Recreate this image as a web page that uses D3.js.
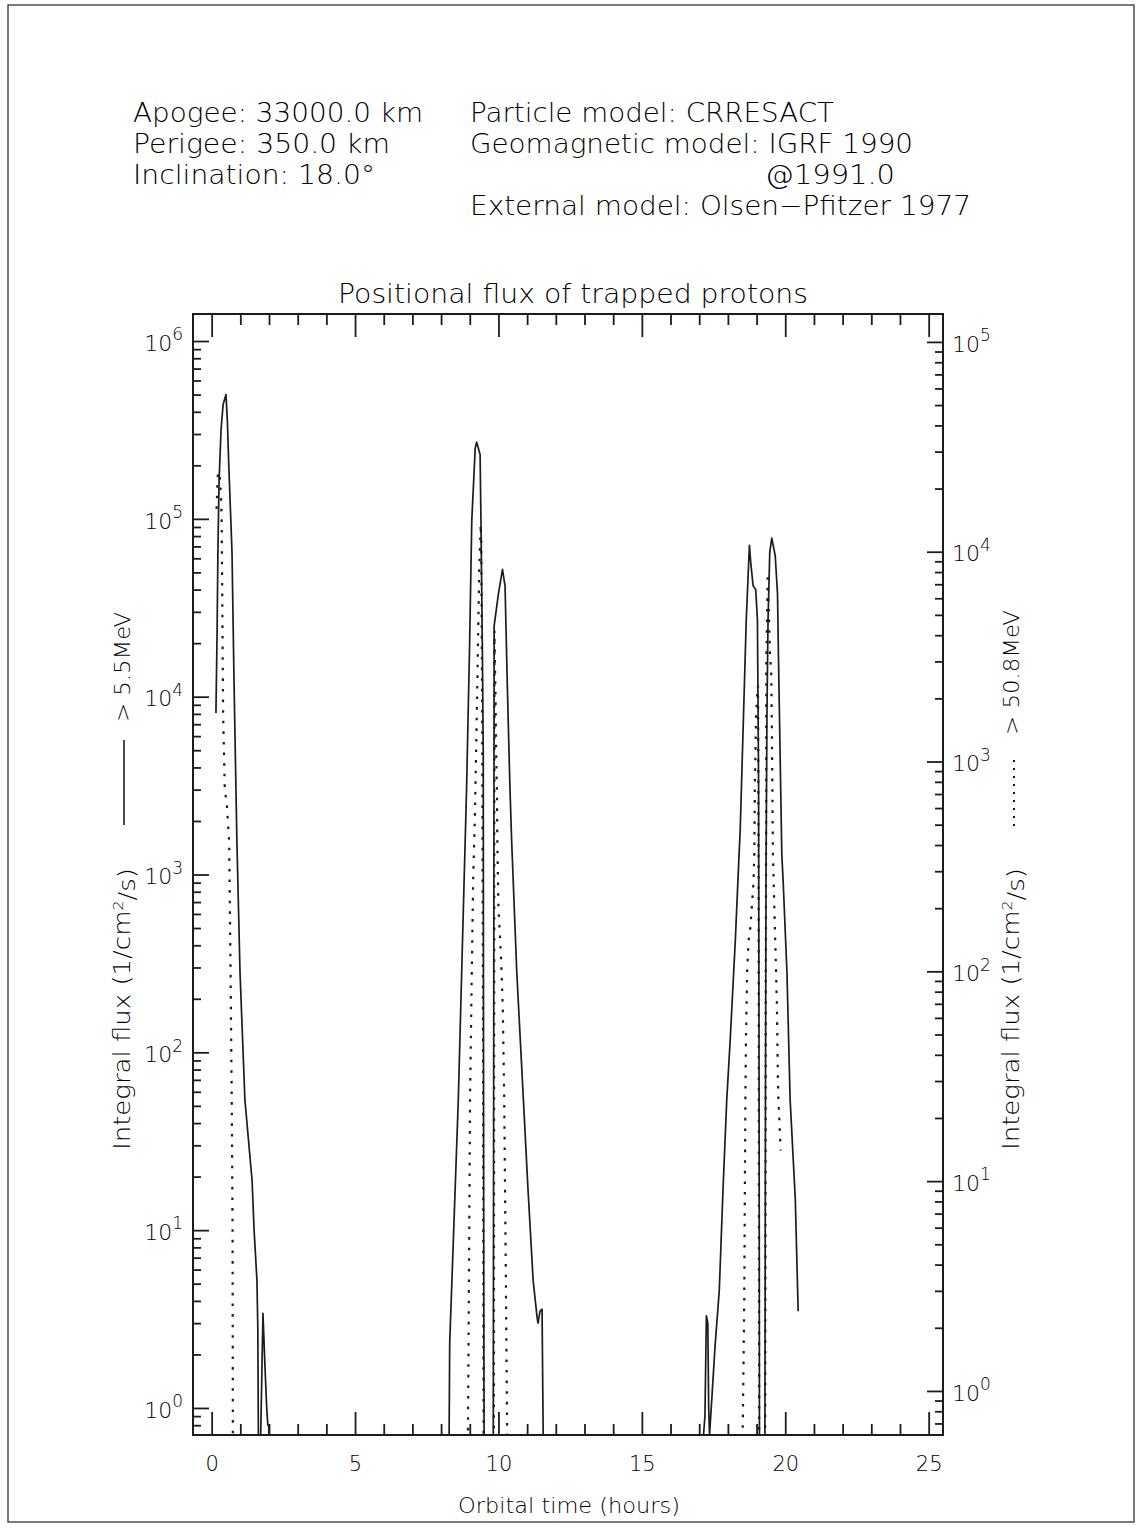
<!DOCTYPE html>
<html>
<head>
<meta charset="utf-8">
<script src="https://cdn.jsdelivr.net/npm/d3@7"></script>
<style>
  html, body { margin: 0; padding: 0; background: #fff; }
  svg text { font-family: "DejaVu Sans", "Liberation Sans", sans-serif; fill: #000; font-weight: 200; }
</style>
</head>
<body>
<svg id="chart" width="1142" height="1528"></svg>
<script>
// Orbit and model description printed above the plot
const orbitInfo = ["Apogee: 33000.0 km", "Perigee: 350.0 km", "Inclination: 18.0°"];
const modelInfo = ["Particle model: CRRESACT", "Geomagnetic model: IGRF 1990", "@1991.0", "External model: Olsen\u2212Pfitzer 1977"];
const chartTitle = "Positional flux of trapped protons";
const xTitle = "Orbital time (hours)";
const legendLow = "> 5.5MeV";
const legendHigh = "> 50.8MeV";

// Axis ticks
const xMajorTicks = [0, 5, 10, 15, 20, 25];
const xMinorTicks = d3.range(0, 26).filter(v => v % 5 !== 0);
const leftDecades = [1e0, 1e1, 1e2, 1e3, 1e4, 1e5, 1e6];
const rightDecades = [1e0, 1e1, 1e2, 1e3, 1e4, 1e5];

// Integral flux > 5.5 MeV (1/cm²/s), left axis; 0 = no flux
const orbitTime55 = [
  0.15, 0.19, 0.22, 0.26, 0.33, 0.40, 0.50, 0.55, 0.60, 0.71, 0.78, 0.88, 0.99, 1.16, 1.41, 1.48, 1.58, 1.61, 1.63, 1.71, 1.79, 1.86, 1.92, 1.96, 1.99, 2.00,
  8.28, 8.30, 8.60, 8.84, 8.89, 8.99, 9.07, 9.19, 9.24, 9.36, 9.39, 9.44, 9.47, 9.48, 9.49, 9.50,
  9.82, 9.85, 10.00, 10.14, 10.23, 10.31, 10.40, 10.46, 10.64, 10.87, 11.03, 11.21, 11.35, 11.38, 11.45, 11.52, 11.56,
  17.15, 17.20, 17.25, 17.30, 17.33, 17.36, 17.45, 17.55, 17.70, 17.83, 17.96, 18.08, 18.26, 18.37, 18.43, 18.54, 18.64, 18.75, 18.80, 18.88, 18.97, 19.03, 19.07, 19.09, 19.10,
  19.29, 19.31, 19.33, 19.36, 19.40, 19.46, 19.53, 19.65, 19.73, 19.76, 19.82, 19.88, 19.93, 20.06, 20.17, 20.35, 20.45
];
const flux55 = [
  8.1e3, 2.3e4, 6.9e4, 1.66e5, 3.2e5, 4.4e5, 5.0e5, 3.5e5, 1.95e5, 6.5e4, 1.23e4, 1.55e3, 2.8e2, 54, 19, 10, 5.2, 2.8, 0, 0, 3.4, 1.7, 1.0, 0.8, 0.8, 0,
  0, 2.3, 54, 1.55e3, 3.1e3, 1.8e4, 9.8e4, 2.5e5, 2.7e5, 2.3e5, 9.8e4, 1.8e4, 4.8e3, 54, 3, 0,
  0, 2.5e4, 3.8e4, 5.2e4, 4.2e4, 1.15e4, 3.1e3, 1.55e3, 2.8e2, 54, 17, 5.2, 3.2, 3.0, 3.5, 3.6, 0,
  0, 0.9, 3.3, 3.0, 1.0, 0.7, 1.2, 2.2, 4.6, 17, 54, 1.17e2, 4.3e2, 1.1e3, 1.8e3, 7.4e3, 2.7e4, 7.1e4, 5.6e4, 4.2e4, 4.0e4, 2.7e4, 3.2e3, 32, 0,
  0, 54, 1.0e3, 7.4e3, 2.7e4, 6.5e4, 7.8e4, 6.2e4, 3.8e4, 1.8e4, 4.8e3, 1.3e3, 8.9e2, 2.8e2, 54, 15, 3.5
];

// Integral flux > 50.8 MeV (1/cm²/s), right axis; 0 = no flux
const orbitTime508 = [
  0.17, 0.22, 0.28, 0.33, 0.35, 0.40, 0.46, 0.52, 0.61, 0.66, 0.70, 0.73, 0.74, 0.75,
  8.93, 8.94, 9.01, 9.07, 9.12, 9.18, 9.22, 9.26, 9.30, 9.33, 9.36, 9.38, 9.40, 9.43, 9.46, 9.48,
  9.84, 9.86, 9.90, 9.92, 9.95, 9.96, 10.00, 10.09, 10.15, 10.20, 10.25, 10.30, 10.31,
  18.51, 18.52, 18.57, 18.61, 18.63, 18.67, 18.72, 18.78, 18.89, 18.92, 18.94, 18.98, 19.01, 19.05, 19.07, 19.09,
  19.30, 19.34, 19.39, 19.47, 19.51, 19.53, 19.55, 19.57, 19.65, 19.71, 19.74, 19.76, 19.84
];
const flux508 = [
  1.6e4, 2.4e4, 2.3e4, 1.8e4, 1.4e4, 1.7e3, 7.2e2, 6.5e2, 4.2e2, 98, 25, 5.9, 0.6, 0,
  0, 0.7, 25, 98, 2.8e2, 5.6e2, 1.1e3, 2.2e3, 4.7e3, 8.1e3, 1.1e4, 1.35e4, 1.15e4, 2.0e3, 72, 0,
  0, 4.2e3, 1.95e3, 1.1e3, 6.8e2, 4.2e2, 2.0e2, 1.17e2, 68, 25, 4.7, 0.72, 0,
  0, 0.7, 2.7, 25, 47, 98, 1.4e2, 1.6e2, 2.6e2, 3.6e2, 7.6e2, 1.6e3, 2.0e3, 2.3e3, 3.0e2, 0,
  0, 3.0e3, 7.9e3, 3.2e3, 2.7e3, 1.6e3, 7.6e2, 3.6e2, 1.4e2, 68, 32, 25, 14
];

// ---- layout ----
const W = 1142, H = 1528;
const plot = { left: 193, right: 943, top: 314, bottom: 1435 };
const ink = "#1c1c1c";

const svg = d3.select("#chart");
svg.append("rect").attr("width", W).attr("height", H).attr("fill", "#fff");

// page border
svg.append("rect")
  .attr("x", 8).attr("y", 5).attr("width", 1126).attr("height", 1517)
  .attr("fill", "none").attr("stroke", "#444").attr("stroke-width", 1.4);

const x = d3.scaleLinear().domain([-0.65, 25.5]).range([plot.left, plot.right]);
const yLeft = d3.scaleLog().domain([Math.pow(10, -0.152), Math.pow(10, 6.152)]).range([plot.bottom, plot.top]);
const yRight = d3.scaleLog().domain([Math.pow(10, -0.21), Math.pow(10, 5.133)]).range([plot.bottom, plot.top]);

// ---- header text ----
const header = svg.append("g").attr("font-size", 27);
const orbitWidths = [290, 257, 242];
orbitInfo.forEach((s, i) => {
  header.append("text").attr("x", 133).attr("y", 122 + i * 31)
    .attr("textLength", orbitWidths[i]).attr("lengthAdjust", "spacingAndGlyphs").text(s);
});
const modelPos = [[470, 122, 364], [470, 153, 443], [765, 184, 130], [470, 215, 501]];
modelInfo.forEach((s, i) => {
  header.append("text").attr("x", modelPos[i][0]).attr("y", modelPos[i][1])
    .attr("textLength", modelPos[i][2]).attr("lengthAdjust", "spacingAndGlyphs").text(s);
});

svg.append("text").attr("x", 338).attr("y", 303).attr("font-size", 26)
  .attr("textLength", 470).attr("lengthAdjust", "spacingAndGlyphs").text(chartTitle);

// ---- curves ----
svg.append("clipPath").attr("id", "plotClip").append("rect")
  .attr("x", plot.left).attr("y", plot.top)
  .attr("width", plot.right - plot.left).attr("height", plot.bottom - plot.top);

const low = orbitTime55.map((t, i) => ({ t, v: flux55[i] }));
const high = orbitTime508.map((t, i) => ({ t, v: flux508[i] }));

const floorL = yLeft.domain()[0], floorR = yRight.domain()[0];
const lineLow = d3.line().x(d => x(d.t)).y(d => yLeft(Math.max(d.v, floorL)));
const lineHigh = d3.line().x(d => x(d.t)).y(d => yRight(Math.max(d.v, floorR)));

const curves = svg.append("g").attr("clip-path", "url(#plotClip)");
curves.append("path").datum(high).attr("d", lineHigh)
  .attr("fill", "none").attr("stroke", ink).attr("stroke-width", 2.2)
  .attr("stroke-dasharray", "2.6 8");
curves.append("path").datum(low).attr("d", lineLow)
  .attr("fill", "none").attr("stroke", ink).attr("stroke-width", 1.7)
  .attr("stroke-linejoin", "round");

// ---- axes ----
function styleAxis(g) {
  g.select(".domain").remove();
  g.selectAll(".tick line").attr("stroke", ink).attr("stroke-width", 1.8);
  g.selectAll(".tick text").attr("fill", "#000").attr("font-family", null);
}
function decadeText(g) {
  g.selectAll(".tick text").each(function (d) {
    const t = d3.select(this);
    const e = Math.round(Math.log10(d));
    t.text(null).attr("font-size", 22).attr("dy", "0.42em");
    t.append("tspan").text("10");
    t.append("tspan").attr("dy", "-0.62em").attr("font-size", 17).text(e);
  });
}

// bottom axis: major with labels, minor without
svg.append("g").attr("transform", `translate(0,${plot.bottom})`)
  .call(d3.axisBottom(x).tickValues(xMajorTicks).tickSize(-23).tickPadding(21).tickFormat(d3.format("d")))
  .call(styleAxis)
  .call(g => g.selectAll(".tick text").attr("font-size", 21));
svg.append("g").attr("transform", `translate(0,${plot.bottom})`)
  .call(d3.axisBottom(x).tickValues(xMinorTicks).tickSize(-11).tickFormat(""))
  .call(styleAxis);
// top axis
svg.append("g").attr("transform", `translate(0,${plot.top})`)
  .call(d3.axisTop(x).tickValues(xMajorTicks).tickSize(-23).tickFormat(""))
  .call(styleAxis);
svg.append("g").attr("transform", `translate(0,${plot.top})`)
  .call(d3.axisTop(x).tickValues(xMinorTicks).tickSize(-11).tickFormat(""))
  .call(styleAxis);

// minor decade ticks 2..9
function minorLog(scale) {
  const [a, b] = scale.domain();
  const out = [];
  for (let e = Math.floor(Math.log10(a)); e <= Math.ceil(Math.log10(b)); e++) {
    for (let m = 2; m <= 9; m++) {
      const v = m * Math.pow(10, e);
      if (v >= a && v <= b) out.push(v);
    }
  }
  return out;
}

// left axis
svg.append("g").attr("transform", `translate(${plot.left},0)`)
  .call(d3.axisLeft(yLeft).tickValues(leftDecades).tickSize(-16).tickPadding(10))
  .call(styleAxis)
  .call(decadeText);
svg.append("g").attr("transform", `translate(${plot.left},0)`)
  .call(d3.axisLeft(yLeft).tickValues(minorLog(yLeft)).tickSize(-8).tickFormat(""))
  .call(styleAxis);

// right axis
svg.append("g").attr("transform", `translate(${plot.right},0)`)
  .call(d3.axisRight(yRight).tickValues(rightDecades).tickSize(-16).tickPadding(9))
  .call(styleAxis)
  .call(decadeText);
svg.append("g").attr("transform", `translate(${plot.right},0)`)
  .call(d3.axisRight(yRight).tickValues(minorLog(yRight)).tickSize(-8).tickFormat(""))
  .call(styleAxis);

// frame
svg.append("rect")
  .attr("x", plot.left).attr("y", plot.top)
  .attr("width", plot.right - plot.left).attr("height", plot.bottom - plot.top)
  .attr("fill", "none").attr("stroke", ink).attr("stroke-width", 2);

// ---- axis titles ----
svg.append("text").attr("x", 458).attr("y", 1513).attr("font-size", 22)
  .attr("textLength", 222).attr("lengthAdjust", "spacingAndGlyphs").text(xTitle);

function fluxTitle(bx, by) {
  const t = svg.append("text").attr("transform", `translate(${bx},${by}) rotate(-90)`)
    .attr("font-size", 23).attr("textLength", 282).attr("lengthAdjust", "spacingAndGlyphs");
  t.append("tspan").text("Integral flux (1/cm");
  t.append("tspan").attr("dy", "-0.5em").attr("font-size", 14).text("2");
  t.append("tspan").attr("dy", "0.5em").text("/s)");
}
fluxTitle(130, 1150);
fluxTitle(1019, 1150);

// legend samples
svg.append("line").attr("x1", 124).attr("x2", 124).attr("y1", 825).attr("y2", 740)
  .attr("stroke", ink).attr("stroke-width", 1.6);
svg.append("text").attr("transform", "translate(130,722) rotate(-90)").attr("font-size", 22)
  .attr("textLength", 110).attr("lengthAdjust", "spacingAndGlyphs").text(legendLow);

svg.append("line").attr("x1", 1014).attr("x2", 1014).attr("y1", 826).attr("y2", 760)
  .attr("stroke", ink).attr("stroke-width", 2).attr("stroke-dasharray", "2 6");
svg.append("text").attr("transform", "translate(1019,735) rotate(-90)").attr("font-size", 22)
  .attr("textLength", 125).attr("lengthAdjust", "spacingAndGlyphs").text(legendHigh);
</script>
</body>
</html>
